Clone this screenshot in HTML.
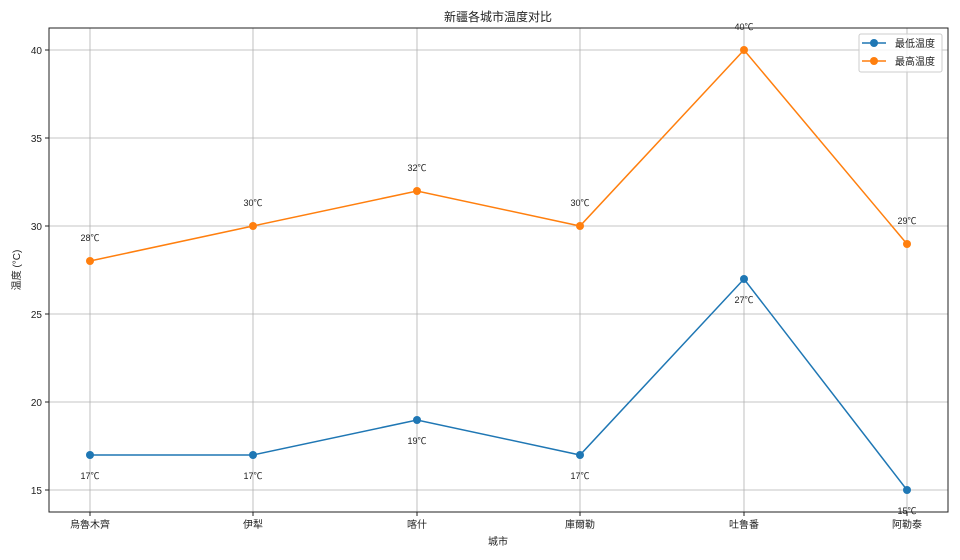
<!DOCTYPE html><html><head><meta charset="utf-8"><style>body{margin:0;background:#fff}svg{display:block}text{font-family:"Liberation Sans","Noto Sans CJK SC",sans-serif;fill:#222}</style></head><body>
<svg width="960" height="560" xmlns="http://www.w3.org/2000/svg">
<g stroke="#b0b0b0" stroke-width="0.8">
<line x1="90" y1="28" x2="90" y2="512"/><line x1="253" y1="28" x2="253" y2="512"/><line x1="417" y1="28" x2="417" y2="512"/><line x1="580" y1="28" x2="580" y2="512"/><line x1="744" y1="28" x2="744" y2="512"/><line x1="907" y1="28" x2="907" y2="512"/>
<line x1="49" y1="50" x2="948" y2="50"/><line x1="49" y1="138" x2="948" y2="138"/><line x1="49" y1="226" x2="948" y2="226"/><line x1="49" y1="314" x2="948" y2="314"/><line x1="49" y1="402" x2="948" y2="402"/><line x1="49" y1="490" x2="948" y2="490"/>
</g>
<rect x="49" y="28" width="899" height="484" fill="none" stroke="#222" stroke-width="1"/>
<g stroke="#222"><line x1="90" y1="512" x2="90" y2="516"/><line x1="253" y1="512" x2="253" y2="516"/><line x1="417" y1="512" x2="417" y2="516"/><line x1="580" y1="512" x2="580" y2="516"/><line x1="744" y1="512" x2="744" y2="516"/><line x1="907" y1="512" x2="907" y2="516"/>
<line x1="45" y1="50" x2="49" y2="50"/><line x1="45" y1="138" x2="49" y2="138"/><line x1="45" y1="226" x2="49" y2="226"/><line x1="45" y1="314" x2="49" y2="314"/><line x1="45" y1="402" x2="49" y2="402"/><line x1="45" y1="490" x2="49" y2="490"/></g>
<g font-size="10" text-anchor="end"><text x="42" y="54">40</text><text x="42" y="142">35</text><text x="42" y="230">30</text><text x="42" y="318">25</text><text x="42" y="406">20</text><text x="42" y="494">15</text></g>
<g font-size="10" text-anchor="middle"><text x="90" y="528">烏魯木齊</text><text x="253" y="528">伊犁</text><text x="417" y="528">喀什</text><text x="580" y="528">庫爾勒</text><text x="744" y="528">吐鲁番</text><text x="907" y="528">阿勒泰</text>
<text x="498" y="545">城市</text><text x="498" y="21" font-size="12">新疆各城市温度对比</text></g>
<text transform="translate(20,270) rotate(-90)" font-size="10" text-anchor="middle">温度 (°C)</text>
<polyline points="90,455 253,455 417,420 580,455 744,279 907,490" fill="none" stroke="#1f77b4" stroke-width="1.5"/>
<polyline points="90,261 253,226 417,191 580,226 744,50 907,244" fill="none" stroke="#ff7f0e" stroke-width="1.5"/>
<g fill="#1f77b4"><circle cx="90" cy="455" r="4"/><circle cx="253" cy="455" r="4"/><circle cx="417" cy="420" r="4"/><circle cx="580" cy="455" r="4"/><circle cx="744" cy="279" r="4"/><circle cx="907" cy="490" r="4"/></g>
<g fill="#ff7f0e"><circle cx="90" cy="261" r="4"/><circle cx="253" cy="226" r="4"/><circle cx="417" cy="191" r="4"/><circle cx="580" cy="226" r="4"/><circle cx="744" cy="50" r="4"/><circle cx="907" cy="244" r="4"/></g>
<g font-size="9" text-anchor="middle">
<text x="90" y="479">17℃</text><text x="253" y="479">17℃</text><text x="417" y="444">19℃</text><text x="580" y="479">17℃</text><text x="744" y="303">27℃</text><text x="907" y="514">15℃</text>
<text x="90" y="241">28℃</text><text x="253" y="206">30℃</text><text x="417" y="171">32℃</text><text x="580" y="206">30℃</text><text x="744" y="30">40℃</text><text x="907" y="224">29℃</text></g>
<rect x="859" y="34" width="83" height="38" rx="2" fill="#fff" fill-opacity="0.8" stroke="#ccc"/>
<line x1="862" y1="43" x2="886" y2="43" stroke="#1f77b4" stroke-width="1.5"/><circle cx="874" cy="43" r="4" fill="#1f77b4"/>
<line x1="862" y1="61" x2="886" y2="61" stroke="#ff7f0e" stroke-width="1.5"/><circle cx="874" cy="61" r="4" fill="#ff7f0e"/>
<text x="895" y="47" font-size="10">最低温度</text><text x="895" y="65" font-size="10">最高温度</text>
</svg></body></html>
